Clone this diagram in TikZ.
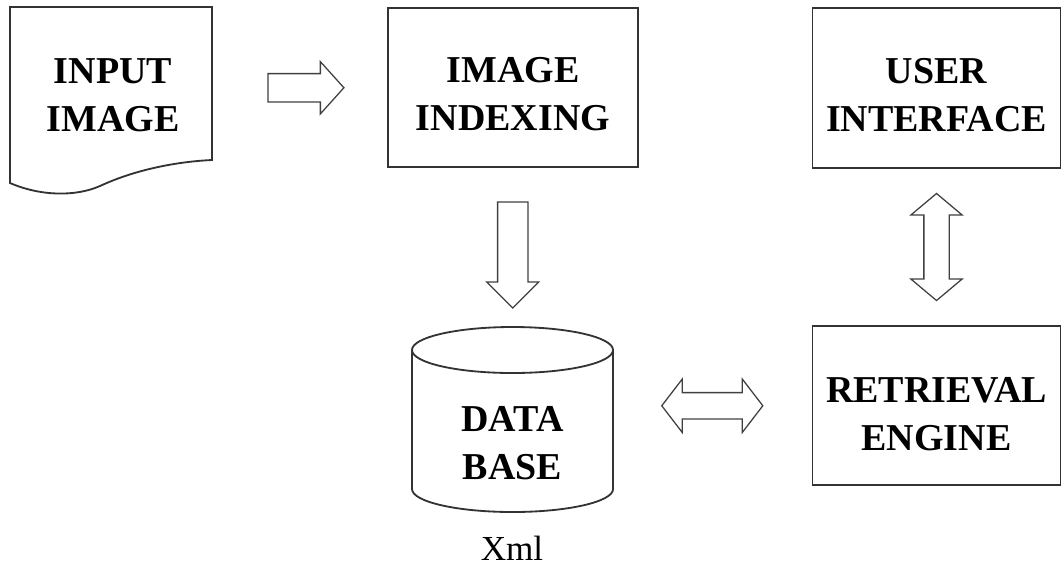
\documentclass[tikz,border=0pt]{standalone}
\usepackage{fontspec}
\setmainfont{Liberation Serif}
\usepackage{tikz}
\usetikzlibrary{calc, shapes.arrows}

\tikzset{
  outline/.style={draw=black!80, line width=1.3pt},
  label/.style={font=\fontsize{27}{34}\selectfont\bfseries, align=center},
  block/.style={outline, minimum width=6.2cm, minimum height=3.975cm, inner sep=0pt},
  hollow/.style={draw=black!75, line width=0.9pt, inner sep=0pt, fill=white}
}

\begin{document}
\begin{tikzpicture}[x=0.025cm, y=-0.025cm]
  \useasboundingbox (0,0) rectangle (1063,568);

  % input image (document shape)
  \coordinate (inE) at (212,88);
  \draw[outline] (10,7) -- (212,7) -- (212,160)
    .. controls (170,162) and (130,172) .. (100,186)
    .. controls (75,197) and (40,196) .. (10,183) -- cycle;
  \node[label] (input) at (113,95) {INPUT\\IMAGE};

  % boxes
  \node[block, minimum width=6.25cm] (index) at (513,87.5) {};
  \node[block, minimum height=4cm] (user) at (936.5,88) {};
  \node[block] (retr) at (936.5,405.5) {};
  \node[label, yshift=-0.17cm] (indexText) at (index.center) {IMAGE\\INDEXING};
  \node[label, yshift=-0.17cm] (userText) at (user.center) {USER\\INTERFACE};
  \node[label, yshift=-0.22cm] (retrText) at (retr.center) {RETRIEVAL\\ENGINE};

  % data base (cylinder)
  \coordinate (dbN) at (512.5,327);
  \coordinate (dbE) at (613,406);
  \draw[outline] (412,350) -- (412,489)
    arc[start angle=180, end angle=360, x radius=2.5125cm, y radius=0.575cm] -- (613,350);
  \draw[outline] (512.5,350) ellipse [x radius=2.5125cm, y radius=0.575cm];
  \node[label] (db) at (512.5,443) {DATA\\BASE};
  \node[font=\fontsize{25}{30}\selectfont] (xml) at (512,548) {Xml};

  % hollow arrows
  \node[hollow, single arrow, minimum height=1.9cm, minimum width=1.275cm,
        inner ysep=0.3375cm, single arrow head extend=0.3cm, single arrow tip angle=96]
    (toindex) at ($(inE)!0.5!(index.west)$) {};
  \node[hollow, single arrow, rotate=-90, minimum height=2.65cm, minimum width=1.275cm,
        inner ysep=0.3625cm, single arrow head extend=0.275cm]
    (todb) at ($(index.south)!0.5!(dbN)$) {};
  \node[hollow, double arrow, rotate=90, minimum height=2.675cm, minimum width=1.25cm,
        inner ysep=0.3cm, double arrow head extend=0.325cm, double arrow tip angle=100]
    (userretr) at ($(user.south)!0.5!(retr.north)$) {};
  \node[hollow, double arrow, minimum height=2.525cm, minimum width=1.3cm,
        inner ysep=0.3125cm, double arrow head extend=0.3375cm, double arrow tip angle=105]
    (dbretr) at ($(dbE)!0.5!(retr.west)$) {};
\end{tikzpicture}
\end{document}
